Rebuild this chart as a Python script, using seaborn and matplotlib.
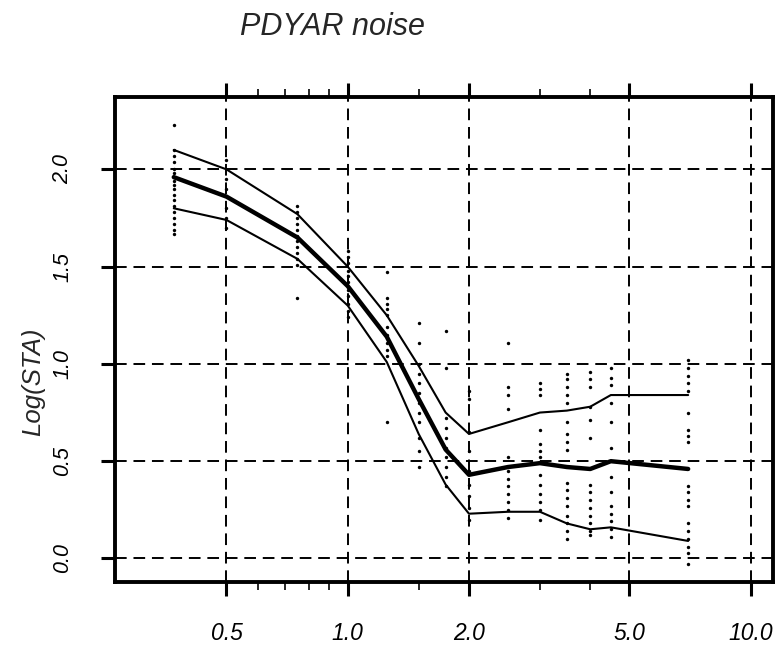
import numpy as np
import pandas as pd
import matplotlib
matplotlib.use("Agg")
import matplotlib.pyplot as plt
import seaborn as sns

# ---- data ----
period = [0.37, 0.5, 0.75, 1.0, 1.25, 1.5, 1.75, 2.0, 2.5, 3.0, 3.5, 4.0, 4.5, 7.0]
median = [1.96, 1.86, 1.65, 1.40, 1.14, 0.82, 0.56, 0.43, 0.47, 0.49, 0.47, 0.46, 0.50, 0.46]
upper = [2.10, 2.00, 1.77, 1.50, 1.25, 0.99, 0.75, 0.64, 0.70, 0.75, 0.76, 0.78, 0.84, 0.84]
lower = [1.80, 1.74, 1.54, 1.30, 1.01, 0.64, 0.38, 0.23, 0.24, 0.24, 0.18, 0.15, 0.16, 0.09]

pts_0_37 = [2.23, 2.10, 2.07, 2.04, 2.00, 1.98, 1.96, 1.94, 1.92, 1.90, 1.87, 1.84, 1.81, 1.78, 1.75, 1.72, 1.69, 1.67]
pts_0_5 = [2.05, 1.95, 1.90, 1.80, 1.75, 1.70]
pts_0_75 = [1.81, 1.78, 1.75, 1.72, 1.69, 1.66, 1.63, 1.60, 1.57, 1.54, 1.51, 1.34]
pts_1_0 = [1.58, 1.55, 1.52, 1.48, 1.45, 1.42, 1.38, 1.35, 1.31, 1.27, 1.24]
pts_1_25 = [1.47, 1.34, 1.31, 1.28, 1.25, 1.19, 1.15, 1.11, 1.07, 1.04, 0.70]
pts_1_5 = [1.21, 1.11, 1.00, 0.95, 0.90, 0.85, 0.80, 0.75, 0.70, 0.62, 0.55, 0.47]
pts_1_75 = [1.17, 0.98, 0.72, 0.67, 0.62, 0.57, 0.52, 0.47, 0.42, 0.37]
pts_2_0 = [0.86, 0.82, 0.65, 0.55, 0.45, 0.38, 0.32, 0.26, 0.20]
pts_2_5 = [1.11, 0.88, 0.84, 0.77, 0.52, 0.45, 0.41, 0.37, 0.33, 0.29, 0.25, 0.21]
pts_3_0 = [0.90, 0.87, 0.84, 0.66, 0.59, 0.55, 0.52, 0.43, 0.38, 0.33, 0.29, 0.25, 0.20]
pts_3_5 = [0.95, 0.92, 0.88, 0.84, 0.80, 0.70, 0.64, 0.60, 0.56, 0.39, 0.35, 0.31, 0.27, 0.22, 0.18, 0.14, 0.10]
pts_4_0 = [0.96, 0.92, 0.88, 0.78, 0.71, 0.62, 0.38, 0.34, 0.30, 0.26, 0.22, 0.18, 0.14, 0.12]
pts_4_5 = [0.98, 0.93, 0.89, 0.80, 0.70, 0.57, 0.42, 0.34, 0.27, 0.23, 0.19, 0.15, 0.11]
pts_7_0 = [1.02, 0.98, 0.94, 0.90, 0.86, 0.75, 0.66, 0.63, 0.60, 0.37, 0.34, 0.30, 0.27, 0.18, 0.14, 0.10, 0.06, 0.03, -0.03]

point_cols = [pts_0_37, pts_0_5, pts_0_75, pts_1_0, pts_1_25, pts_1_5, pts_1_75,
              pts_2_0, pts_2_5, pts_3_0, pts_3_5, pts_4_0, pts_4_5, pts_7_0]

xticks = [0.5, 1.0, 2.0, 5.0, 10.0]
xticklabels = ["0.5", "1.0", "2.0", "5.0", "10.0"]
xminor = [0.6, 0.7, 0.8, 0.9, 1.5, 3.0, 4.0]
yticks = [0.0, 0.5, 1.0, 1.5, 2.0]
yticklabels = ["0.0", "0.5", "1.0", "1.5", "2.0"]

title = "PDYAR noise"
ylabel = "Log(STA)"

# ---- build tables ----
lines_df = pd.DataFrame({"period": period * 3,
                         "value": median + upper + lower,
                         "curve": ["median"] * len(period) + ["upper"] * len(period) + ["lower"] * len(period)})
sx, sy = [], []
for p, col in zip(period, point_cols):
    sx += [p] * len(col)
    sy += col
pts_df = pd.DataFrame({"period": sx, "value": sy})

sns.set_theme(style="white")
plt.rcParams["font.family"] = ["Liberation Sans", "DejaVu Sans"]
plt.rcParams["font.style"] = "italic"

W, H = 775, 650
fig = plt.figure(figsize=(W / 100, H / 100), dpi=100)
ax = fig.add_axes([115 / W, 1 - 582 / H, (773 - 115) / W, (582 - 97) / H])

ax.set_xscale("log")
ax.set_xlim(0.2644, 11.37)
ax.set_ylim(-0.121, 2.372)

# grid
dash = (0, (6, 3.5))
for v in xticks:
    ax.axvline(v, color="black", lw=1.4, linestyle=dash, zorder=1)
for v in yticks:
    ax.axhline(v, color="black", lw=1.4, linestyle=dash, zorder=1)

sns.scatterplot(data=pts_df, x="period", y="value", ax=ax, color="black",
                s=6, marker="o", linewidth=0, zorder=2, legend=False)
sns.lineplot(data=lines_df[lines_df.curve == "median"], x="period", y="value", ax=ax,
             color="black", lw=3.2, zorder=3, legend=False)
for c in ["upper", "lower"]:
    sns.lineplot(data=lines_df[lines_df.curve == c], x="period", y="value", ax=ax,
                 color="black", lw=1.5, zorder=3, legend=False)

ax.set_xticks(xticks)
ax.set_xticklabels(xticklabels, fontsize=16.5, style="italic")
ax.set_xticks(xminor, minor=True)
ax.set_xticklabels([], minor=True)
ax.set_yticks(yticks)
ax.set_yticklabels(yticklabels, fontsize=15.5, style="italic", rotation=90, va="center")

ax.tick_params(axis="x", which="major", direction="out", length=10, width=2.2,
               top=True, bottom=True, pad=19, colors="black")
ax.tick_params(axis="x", which="minor", direction="out", length=6, width=1.4,
               top=True, bottom=True)
ax.tick_params(axis="y", which="major", direction="out", length=10, width=2.2,
               left=True, right=False, pad=20, colors="black")

for s in ax.spines.values():
    s.set_linewidth(2.8)
    s.set_color("black")
    s.set_visible(True)

ax.set_xlabel("")
ax.set_ylabel("")
fig.text(33 / W, 1 - 382 / H, ylabel, rotation=90, fontsize=18.5, style="italic",
         ha="center", va="center")
fig.text(333 / W, 1 - 27 / H, title, fontsize=22, style="italic", ha="center", va="center")

fig.savefig("out.png", dpi=100)
